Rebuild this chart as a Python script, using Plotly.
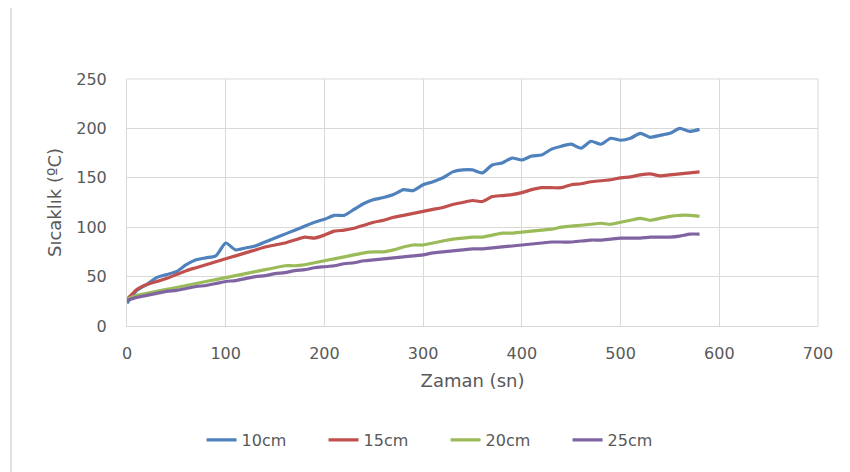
import plotly.graph_objects as go

time_s = list(range(0, 590, 10))

temp_10cm = [23, 36, 42, 49, 52, 55, 62, 67, 69, 71, 84, 77, 79, 81, 85, 89, 93, 97, 101, 105,
             108, 112, 112, 118, 124, 128, 130, 133, 138, 137, 143, 146, 150, 156, 158, 158, 155, 163, 165, 170,
             168, 172, 173, 179, 182, 184, 180, 187, 184, 190, 188, 190, 195, 191, 193, 195, 200, 197, 199]
temp_15cm = [27, 37, 42, 45, 48, 52, 56, 59, 62, 65, 68, 71, 74, 77, 80, 82, 84, 87, 90, 89,
             92, 96, 97, 99, 102, 105, 107, 110, 112, 114, 116, 118, 120, 123, 125, 127, 126, 131, 132, 133,
             135, 138, 140, 140, 140, 143, 144, 146, 147, 148, 150, 151, 153, 154, 152, 153, 154, 155, 156]
temp_20cm = [27, 31, 33, 35, 37, 39, 41, 43, 45, 47, 49, 51, 53, 55, 57, 59, 61, 61, 62, 64,
             66, 68, 70, 72, 74, 75, 75, 77, 80, 82, 82, 84, 86, 88, 89, 90, 90, 92, 94, 94,
             95, 96, 97, 98, 100, 101, 102, 103, 104, 103, 105, 107, 109, 107, 109, 111, 112, 112, 111]
temp_25cm = [26, 29, 31, 33, 35, 36, 38, 40, 41, 43, 45, 46, 48, 50, 51, 53, 54, 56, 57, 59,
             60, 61, 63, 64, 66, 67, 68, 69, 70, 71, 72, 74, 75, 76, 77, 78, 78, 79, 80, 81,
             82, 83, 84, 85, 85, 85, 86, 87, 87, 88, 89, 89, 89, 90, 90, 90, 91, 93, 93]

series_names = ["10cm", "15cm", "20cm", "25cm"]
series_values = [temp_10cm, temp_15cm, temp_20cm, temp_25cm]
colors = ["#4F81BD", "#C0504D", "#9BBB59", "#8064A2"]

x_ticks = [0, 100, 200, 300, 400, 500, 600, 700]
y_ticks = [0, 50, 100, 150, 200, 250]

fig = go.Figure()
for name, vals, col in zip(series_names, series_values, colors):
    fig.add_trace(go.Scatter(x=time_s, y=vals, name=name, mode="lines",
                             line=dict(color=col, width=3.2, shape="spline", smoothing=0.6)))

font_family = "DejaVu Sans, sans-serif"
grid = "#d9d9d9"
txt = "#595959"

fig.update_layout(
    width=842, height=464,
    margin=dict(l=119, r=32, t=71, b=146, autoexpand=False),
    paper_bgcolor="white", plot_bgcolor="white",
    font=dict(family=font_family, color=txt, size=16),
    showlegend=True,
    legend=dict(orientation="h", x=0.461, xanchor="center", y=-0.4615, yanchor="middle",
                font=dict(size=16, color=txt), entrywidth=77, entrywidthmode="pixels"),
    xaxis=dict(range=[0, 700], tickvals=x_ticks, showgrid=True, gridcolor=grid, gridwidth=1,
               showline=True, linecolor=grid, zeroline=False, ticks="", ticklabelstandoff=13,
               automargin=False,
               title=dict(text="Zaman (sn)", font=dict(size=18, color=txt), standoff=12)),
    yaxis=dict(range=[0, 250], tickvals=y_ticks, showgrid=True, gridcolor=grid, gridwidth=1,
               showline=True, linecolor=grid, zeroline=False, ticks="", ticklabelstandoff=16,
               automargin=False,
               title=dict(text="Sıcaklık (ºC)", font=dict(size=18, color=txt), standoff=9)),
    shapes=[
        dict(type="line", xref="paper", yref="paper", x0=1, x1=1, y0=0, y1=1,
             line=dict(color=grid, width=1)),
        dict(type="line", xref="paper", yref="paper", x0=0, x1=1, y0=1, y1=1,
             line=dict(color=grid, width=1)),
        dict(type="rect", xref="paper", yref="paper", x0=-0.1679, x1=1.06, y0=-0.65, y1=1.2996,
             line=dict(color="#d9d9d9", width=1.5), fillcolor="rgba(0,0,0,0)", layer="below"),
    ],
)

fig.write_html("out.html")
